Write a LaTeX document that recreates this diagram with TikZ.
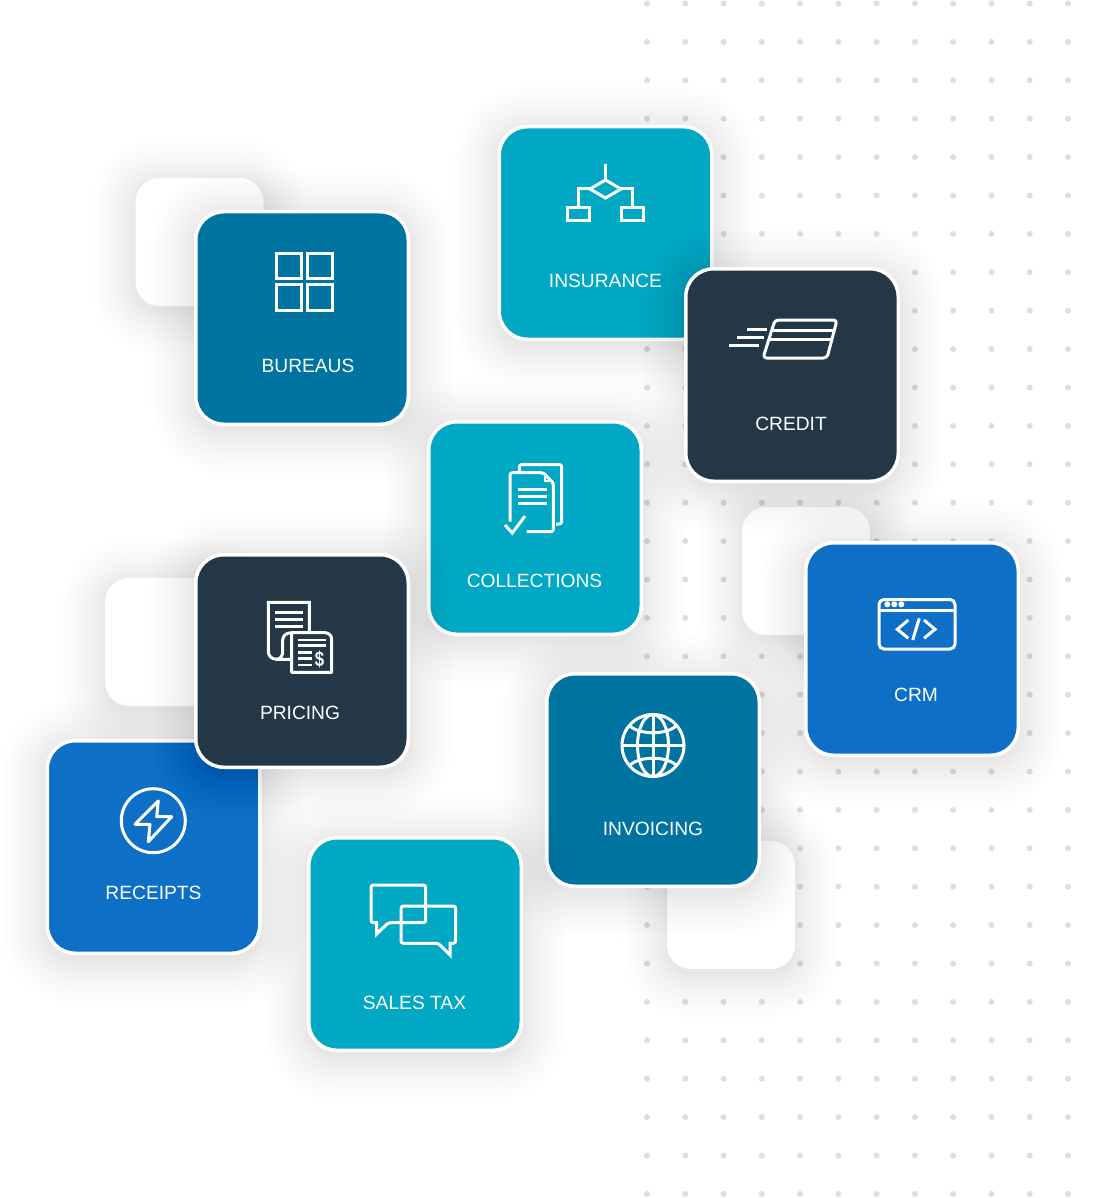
\documentclass[tikz,border=0pt]{standalone}
\usepackage{fontspec}
\setmainfont{Liberation Sans}
\usetikzlibrary{positioning,calc}
\definecolor{tealtile}{HTML}{00A8C4}
\definecolor{deeptile}{HTML}{0074A0}
\definecolor{navytile}{HTML}{243746}
\definecolor{bluetile}{HTML}{0E6FC7}
\definecolor{dotgrey}{HTML}{DEDEDE}
\tikzset{
	tilebox/.style={draw=white, line width=3.5pt, rounded corners=28pt, minimum size=212.5pt, inner sep=0pt, outer sep=0pt},
	ghostbox/.style={fill=white, rounded corners=24pt, minimum size=128pt, inner sep=0pt, outer sep=0pt},
	tilelabel/.style={text=white, inner sep=0pt, font=\fontsize{19.2}{22}\selectfont},
	iconline/.style={draw=white, line width=3pt, line join=miter},
	softline/.style={draw=white, line width=3pt, line join=round, line cap=round},
}
% soft shadow, half width #3, corner #4
\newcommand{\softshadow}[4]{
	\foreach \i in {1,...,24}{
		\pgfmathsetmacro{\grow}{44*(\i/24)^1.5}
		\fill[black, opacity=.004, rounded corners={#4+\grow*1pt}]
			({#1-#3-\grow},{#2-#3-\grow+5}) rectangle ({#1+#3+\grow},{#2+#3+\grow+5});
	}
}
% name, x, y, colour, label shift, label
\newcommand{\tile}[6]{
	\softshadow{#2}{#3}{108}{30pt}
	\node[tilebox, fill=#4] (#1) at (#2,#3) {};
	\node[tilelabel] (#1text) at ($(#1.center)+(#5)$) {#6};
}
\newcommand{\ghost}[3]{
	\softshadow{#2}{#3}{64}{24pt}
	\node[ghostbox] (#1) at (#2,#3) {};
}
\begin{document}
\begin{tikzpicture}[x=1pt,y=-1pt]
	\useasboundingbox (0,0) rectangle (1104,1198);
	\fill[white] (0,0) rectangle (1104,1198);

	% dot grid
	\foreach \row in {0,...,31}
		\foreach \col in {0,...,11}
			\fill[dotgrey] ({647+\col*38.27},{3.5+\row*38.4}) circle (3);

	% blank tiles
	\ghost{ghostbureaus}{199.5}{242}
	\ghost{ghostpricing}{169}{642}
	\ghost{ghostcrm}{806}{571}
	\ghost{ghostinvoicing}{731}{905}

	% insurance
	\tile{insurance}{605.5}{233}{tealtile}{0,47.5}{INSURANCE}
	\draw[iconline] (605.5,164) -- (605.5,180);
	\draw[iconline] (605.5,180) -- (621,189) -- (605.5,198) -- (590,189) -- cycle;
	\draw[iconline] (590,189) -- (578,189) -- (578,207);
	\draw[iconline] (621,189) -- (632.5,189) -- (632.5,207);
	\draw[iconline] (567.5,208) rectangle (589.5,220.5);
	\draw[iconline] (621.5,208) rectangle (643.5,220.5);

	% bureaus
	\tile{bureaus}{302}{318}{deeptile}{6,47.5}{BUREAUS}
	\draw[iconline] (276.5,253.5) rectangle (301.2,278.5);
	\draw[iconline] (307.5,253.5) rectangle (332.2,278.5);
	\draw[iconline] (276.5,284.8) rectangle (301.2,310.2);
	\draw[iconline] (307.5,284.8) rectangle (332.2,310.2);

	% credit
	\tile{credit}{792}{375}{navytile}{-1,48.5}{CREDIT}
	\draw[softline, line cap=butt] (747,329.3) -- (767,329.3);
	\draw[softline, line cap=butt] (737,337.3) -- (764,337.3);
	\draw[softline, line cap=butt] (729,345.7) -- (759,345.7);
	\draw[softline, rounded corners=3.5pt] (775,320) -- (837,320) -- (827,358) -- (763,358) -- cycle;
	\draw[softline, line cap=butt] (771.7,330) -- (835,330);
	\draw[softline, line cap=butt] (769,339) -- (833,339);

	% collections
	\tile{collections}{535}{528}{tealtile}{-0.5,53}{COLLECTIONS}
	\draw[softline, line cap=butt, rounded corners=2.5pt] (519.3,471) -- (519.3,464.5) -- (561.7,464.5) -- (561.7,524) -- (556,524);
	\draw[softline, line cap=butt, rounded corners=2.5pt] (510,521.7) -- (510,472.7) -- (543.3,472.7) -- (553.3,482.7) -- (553.3,531.7) -- (526.7,531.7);
	\draw[line width=2pt, white] (545,476) -- (545,480.7) -- (551,480.7);
	\draw[iconline, line width=2.6pt] (518.3,489.3) -- (546.7,489.3);
	\draw[iconline, line width=2.6pt] (518.3,496.3) -- (546.7,496.3);
	\draw[iconline, line width=2.6pt] (518.3,503.3) -- (546.7,503.3);
	\draw[iconline] (505,525) -- (512.3,533) -- (525,516);

	% receipts, under pricing
	\tile{receipts}{153.5}{847}{bluetile}{0,45.5}{RECEIPTS}
	\draw[softline] (153.3,820.7) circle (32);
	\draw[softline] (158.3,801) -- (135,824.3) -- (150,824.3) -- (148.3,841.7) -- (171.7,816.7) -- (156.7,816.7) -- cycle;

	% pricing
	\tile{pricing}{302}{661}{navytile}{-2,51.5}{PRICING}
	\draw[softline, line cap=butt, line join=miter] (309.3,631.7) -- (309.3,602.3) -- (268.3,602.3) -- (268.3,651.7)
		.. controls (268.3,656) and (272,659.3) .. (276.7,659.3) -- (291,659.3);
	\draw[softline, line cap=butt] (276.7,659.3) .. controls (280,659.3) and (282.7,656) .. (282.7,651.7) -- (282.7,640)
		.. controls (282.7,636) and (286,632.7) .. (291.7,632.7) -- (325,632.7)
		.. controls (329,632.7) and (331.7,636) .. (331.7,639.3) -- (331.7,672.3) -- (291.7,672.3) -- (291.7,632.7);
	\draw[iconline, line width=2.6pt] (275,612.7) -- (303.3,612.7);
	\draw[iconline, line width=2.6pt] (275,619.5) -- (303.3,619.5);
	\draw[iconline, line width=2.6pt] (275,626.5) -- (303.3,626.5);
	\draw[iconline, line width=2.6pt] (297.7,640) -- (326,640);
	\draw[iconline, line width=2.6pt] (297.7,645.5) -- (326,645.5);
	\draw[iconline, line width=2.6pt] (297.7,652.3) -- (312.3,652.3);
	\draw[iconline, line width=2.6pt] (297.7,658.5) -- (312.3,658.5);
	\draw[iconline, line width=2.6pt] (297.7,665) -- (312.3,665);
	\node[text=white, inner sep=0pt, xscale=.8, font=\fontsize{21}{21}\selectfont\bfseries] (pricingdollar) at (319.5,659) {\$};

	% crm
	\tile{crm}{912}{649}{bluetile}{4,46}{CRM}
	\draw[softline, rounded corners=5pt] (879,599.5) rectangle (955,649);
	\draw[iconline] (879,610) -- (955,610);
	\fill[white] (887.3,604.3) circle (3) (894.3,604.3) circle (3) (901.3,604.3) circle (3);
	\draw[iconline] (908.3,620) -- (897.3,629.3) -- (908.3,638.3);
	\draw[iconline] (924,620) -- (935,629.3) -- (924,638.3);
	\draw[iconline] (919.3,618.3) -- (912.7,640);

	% invoicing
	\tile{invoicing}{653}{780}{deeptile}{0,48.5}{INVOICING}
	\draw[iconline] (653,745.5) circle (31);
	\draw[iconline] (653,745.5) ellipse (15.5 and 31);
	\draw[iconline] (653,714.5) -- (653,776.5);
	\draw[iconline] (622,745.5) -- (684,745.5);
	\draw[iconline] (630,726) .. controls (640,735) and (666,735) .. (676,726);
	\draw[iconline] (630,765) .. controls (640,756) and (666,756) .. (676,765);

	% sales tax
	\tile{salestax}{415}{944}{tealtile}{-0.5,58.5}{SALES TAX}
	\draw[softline, line join=miter] (376.7,922.7) [rounded corners=2.5pt] -- (371,922.7) -- (371,885) -- (425.7,885) -- (425.7,922.7) -- (388.3,922.7) [sharp corners] -- (376.7,934) -- cycle;
	\draw[softline, line join=miter] (450,943.3) [rounded corners=2.5pt] -- (455.7,943.3) -- (455.7,906) -- (401,906) -- (401,943.3) -- (438.3,943.3) [sharp corners] -- (450,955) -- cycle;

\end{tikzpicture}
\end{document}
